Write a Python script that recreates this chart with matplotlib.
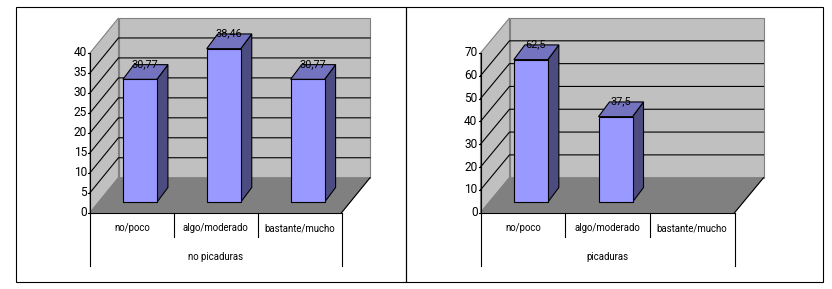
import numpy as np
import matplotlib
matplotlib.use("Agg")
import matplotlib.pyplot as plt
from matplotlib.patches import Rectangle

W, H = 832, 289
plt.rcParams['font.family'] = ['Roboto', 'Liberation Sans', 'DejaVu Sans']

categories = ['no/poco', 'algo/moderado', 'bastante/mucho']
left_values = [30.77, 38.46, 30.77]
left_labels = ['30,77', '38,46', '30,77']
left_ticks = [0, 5, 10, 15, 20, 25, 30, 35, 40]
left_group = 'no picaduras'
right_values = [62.5, 37.5, None]
right_labels = ['62,5', '37,5', '']
right_ticks = [0, 10, 20, 30, 40, 50, 60, 70]
right_group = 'picaduras'

FRONT = '#9999FF'
TOP = '#7373BF'
SIDE = '#4C4C80'
WALL = '#C0C0C0'
FLOOR = '#808080'
FS_TICK = 8.6
FS_CAT = 6.9
FS_VAL = 7.8

fig = plt.figure(figsize=(W / 100, H / 100), dpi=100, facecolor='white')

bg = fig.add_axes([0, 0, 1, 1])
bg.set_xlim(0, W)
bg.set_ylim(H, 0)
bg.axis('off')
bg.add_patch(Rectangle((15.5, 6.5), 390, 275, fill=False, ec='black', lw=0.8))
bg.add_patch(Rectangle((405.5, 6.5), 417, 275, fill=False, ec='black', lw=0.8))


def chart(x0, x1, values, labels, ticks, group, dep_x):
    y0, y1 = 212.7, 53.0
    ax = fig.add_axes([x0 / W, 1 - y0 / H, (x1 - x0) / W, (y0 - y1) / H])
    ymax = ticks[-1]
    ax.set_xlim(0, 3)
    ax.set_ylim(0, ymax)
    ax.axis('off')
    sx = 3 / (x1 - x0)
    sy = ymax / (y0 - y1)
    dx, dy = dep_x * sx, 35 * sy
    kw = dict(clip_on=False)
    lw = 0.8

    # walls and floor
    ax.fill([dx, 3 + dx, 3 + dx, dx], [dy, dy, ymax + dy, ymax + dy], fc=WALL, ec=FLOOR, lw=lw, zorder=1, **kw)
    ax.fill([0, dx, dx, 0], [0, dy, ymax + dy, ymax], fc=WALL, ec=FLOOR, lw=lw, zorder=1, **kw)

    # gridlines
    for t in ticks[1:-1]:
        ax.plot([0, dx, 3 + dx], [t, t + dy, t + dy], color='black', lw=lw, zorder=2, **kw)

    ax.fill([0, 3, 3 + dx, dx], [0, 0, dy, dy], fc=FLOOR, ec=FLOOR, lw=lw, zorder=3, **kw)

    # axis lines and ticks
    ax.plot([0, 0], [0, ymax], color='black', lw=lw, zorder=4, **kw)
    ax.plot([0, 3], [0, 0], color='black', lw=lw, zorder=4, **kw)
    ax.plot([3, 3 + dx], [0, dy], color='black', lw=lw, zorder=4, **kw)
    for t in ticks:
        ax.plot([-2 * sx, 0], [t, t], color='black', lw=lw, zorder=3, **kw)
        ax.text(-3 * sx, t, str(t), ha='right', va='center', fontsize=FS_TICK, zorder=5)

    # bars
    bw = 34 * sx
    bx, by = 11 * sx, 14.7 * sy
    base = 10.5 * sy
    for i, v in enumerate(values):
        if v is None:
            continue
        c = i + 0.5 + 8 * sx
        l, r = c - bw / 2, c + bw / 2
        t = v + base
        ax.fill([r, r + bx, r + bx, r], [base, base + by, t + by, t], fc=SIDE, ec='black', lw=lw, zorder=6, **kw)
        ax.fill([l, r, r + bx, l + bx], [t, t, t + by, t + by], fc=TOP, ec='black', lw=lw, zorder=6, **kw)
        ax.bar(c, v, bw, bottom=base, color=FRONT, edgecolor='black', lw=lw, zorder=7, **kw)
        ax.text(c + 5 * sx, t + 15 * sy, labels[i], ha='center', va='center', fontsize=FS_VAL, zorder=8)

    # category axis
    for i, name in enumerate(categories):
        ax.text(i + 0.5, -15.5 * sy, name, ha='center', va='center', fontsize=FS_CAT)
    for i in (1, 2):
        ax.plot([i, i], [0, -24 * sy], color='black', lw=lw, **kw)
    for i in (0, 3):
        ax.plot([i, i], [0, -53 * sy], color='black', lw=lw, **kw)
    ax.text(1.5, -44.5 * sy, group, ha='center', va='center', fontsize=FS_CAT)


chart(90.0, 341.5, left_values, left_labels, left_ticks, left_group, 28.5)
chart(480.5, 734.5, right_values, right_labels, right_ticks, right_group, 29)

fig.savefig('out.png', dpi=100)
